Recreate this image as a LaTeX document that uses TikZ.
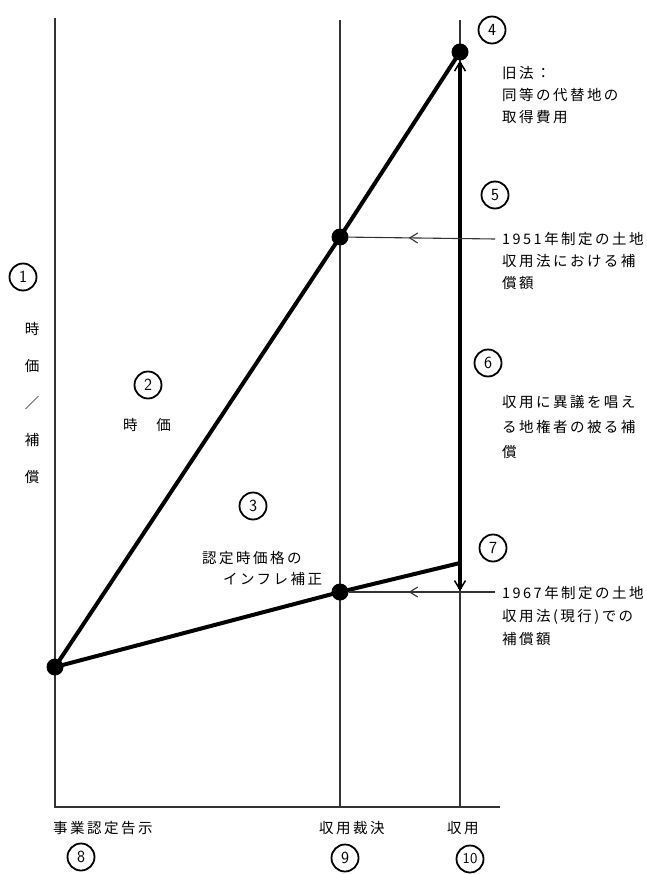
\documentclass[tikz,border=0pt]{standalone}
\usepackage{fontspec}
\newfontfamily\jp[LetterSpace=17]{Noto Sans CJK JP}
\newfontfamily\jpn{Noto Sans CJK JP}
\usetikzlibrary{arrows.meta,decorations.markings}
\begin{document}
\begin{tikzpicture}[x=1pt,y=-1pt,
  axis/.style={line width=1.1pt, black!80},
  heavy/.style={line width=4pt, line cap=round},
  dot/.style={circle, fill=black, inner sep=0pt, minimum size=17pt},
  num/.style={circle, draw, line width=1.8pt, inner sep=0pt, minimum size=27pt, font=\sffamily\fontsize{17}{17}\selectfont},
  lbl/.style={font=\jp\fontsize{14.5}{22}\selectfont, align=left, inner sep=0pt, anchor=north west},
  wlbl/.style={font=\jp\fontsize{14.5}{16}\selectfont, inner sep=0pt, anchor=west},
  midarrow/.style={decoration={markings, mark=at position 0.59 with {\arrow{Straight Barb[length=8pt,width=10pt,line width=1.1pt]}}}, postaction=decorate},
  barb/.tip={Straight Barb[length=9pt,width=11pt,line width=1.5pt]}
]
\useasboundingbox (0,0) rectangle (646,874);
% axes and verticals
\coordinate (O) at (55,807);
\coordinate (Ltop) at (55,18);
\coordinate (Mtop) at (340,20);
\coordinate (Mbot) at (340,807);
\coordinate (Rtop) at (460,20);
\coordinate (Rbot) at (460,807);
\coordinate (Xend) at (500,807);
\draw[axis] (Ltop) -- (O) -- (Xend);
\draw[axis] (Mtop) -- (Mbot);
\draw[axis] (Rtop) -- (Rbot);
% dots
\node[dot] (A) at (55,667) {};
\node[dot] (B) at (340,237) {};
\node[dot] (C) at (340,592) {};
\node[dot] (D) at (460,52) {};
\coordinate (E) at (460,563);
\coordinate (F) at (460,591);
\draw[heavy] (A.center) -- (B.center) -- (D.center);
\draw[heavy] (A.center) -- (C.center) -- (E);
\draw[line width=4pt, barb-barb] (D) -- (F);
% horizontal arrows
\coordinate (G) at (495,239);
\coordinate (H) at (495,592);
\draw[axis, midarrow] (G) -- (B);
\draw[axis, midarrow] (H) -- (C);
% circled numbers
\node[num] (n1) at (23,277) {1};
\node[num] (n2) at (148,385) {2};
\node[num] (n3) at (253,506) {3};
\node[num] (n4) at (492,30) {4};
\node[num] (n5) at (495,195) {5};
\node[num] (n6) at (488,363) {6};
\node[num] (n7) at (493,548) {7};
\node[num] (n8) at (81,857) {8};
\node[num] (n9) at (345,858) {9};
\node[num, font=\sffamily\fontsize{15}{15}\selectfont] (n10) at (470,859) {10};
% left vertical label
\node[font=\jpn\fontsize{14.5}{37}\selectfont, align=center, inner sep=0pt, anchor=north] (ylab) at (32,322) {時\\価\\／\\補\\償};
% area labels
\node[font=\jpn\fontsize{14.5}{16}\selectfont, inner sep=0pt] (t2) at (147,425) {時\hspace{19pt}価};
\node[wlbl] (t3a) at (202,558) {認定時価格の};
\node[wlbl] (t3b) at (223,579) {インフレ補正};
% right labels
\node[lbl] (t4) at (502,66) {旧法：\\同等の代替地の\\取得費用};
\node[lbl] (t5) at (502,232) {1951年制定の土地\\収用法における補\\償額};
\node[lbl, font=\jp\fontsize{14.5}{25}\selectfont] (t6) at (502,395) {収用に異議を唱え\\る地権者の被る補\\償};
\node[lbl, font=\jp\fontsize{14.5}{23}\selectfont] (t7) at (502,586) {1967年制定の土地\\収用法(現行)での\\補償額};
% bottom labels
\node[wlbl] (t8) at (53,828) {事業認定告示};
\node[wlbl] (t9) at (319,828) {収用裁決};
\node[wlbl] (t10) at (447,828) {収用};
\end{tikzpicture}
\end{document}
